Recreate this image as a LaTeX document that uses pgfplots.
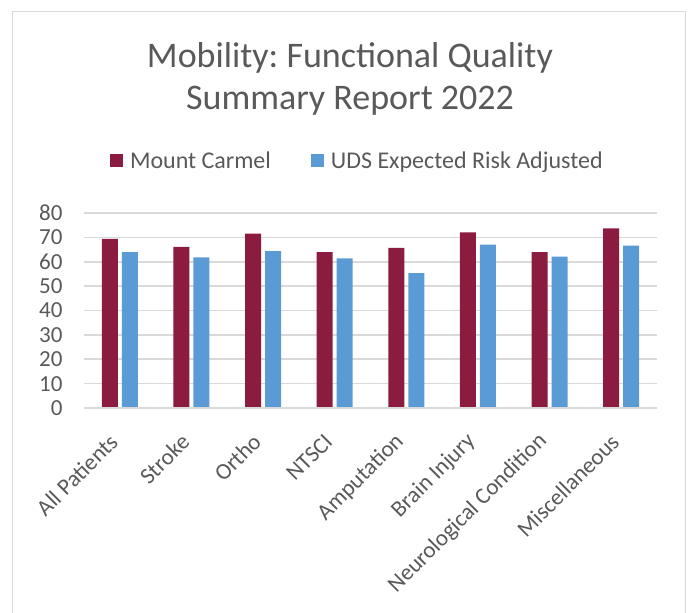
\documentclass[border=0pt]{standalone}
\usepackage{fontspec}
\setmainfont{Carlito}
\usepackage{pgfplots}
\pgfplotsset{compat=1.18}
\definecolor{mcred}{HTML}{8B1C40}
\definecolor{udsblue}{HTML}{5B9BD5}
\definecolor{txtgray}{HTML}{595959}
\definecolor{gridgray}{HTML}{D9D9D9}
\frenchspacing

\begin{document}
\begin{tikzpicture}[x=1pt,y=1pt]
\begin{scope}
\clip (0,0) rectangle (689,613);
\draw[gridgray, line width=1pt] (12,-5) rectangle (685,601);
\end{scope}
\node[txtgray, anchor=base, font=\fontsize{36}{43}\selectfont] at (350,545) {Mobility: Functional Quality};
\node[txtgray, anchor=base, font=\fontsize{36}{43}\selectfont] at (350,503) {Summary Report 2022};

\begin{axis}[
    at={(84pt,205pt)}, anchor=south west,
    width=573pt, height=195pt, scale only axis,
    xmin=-0.5, xmax=7.5, ymin=0, ymax=80,
    ybar=4pt, bar width=16pt,
    axis line style={draw=none},
    ymajorgrids, grid style={gridgray, line width=1.5pt},
    ytick={0,10,...,80},
    xtick={0,...,7},
    xticklabels={All Patients,Stroke,Ortho,NTSCI,Amputation,Brain Injury,Neurological Condition,Miscellaneous},
    major tick length=0pt,
    tick label style={txtgray, font=\fontsize{23}{27}\selectfont},
    /pgf/number format/assume math mode=true,
    yticklabel style={xshift=-18pt},
    xticklabel style={xshift=-6pt, yshift=-30pt, rotate=45, anchor=east, inner sep=0pt},
    legend style={at={(0.0454,1.267)}, anchor=west, draw=none, fill=none,
        inner sep=0pt, outer sep=0pt,
        nodes={inner sep=0pt, outer sep=0pt},
        legend columns=2, font=\fontsize{24}{29}\selectfont, text=txtgray,
        /tikz/every odd column/.append style={column sep=7pt},
        /tikz/every even column/.append style={column sep=40pt}},
    legend image code/.code={\fill[#1] (0pt,-6.5pt) rectangle (13pt,6.5pt);},
    clip=false,
]
\addplot[fill=mcred, draw=none] coordinates {
    (0,69.4) (1,66.1) (2,71.5) (3,64.0) (4,65.7) (5,72.1) (6,64.0) (7,73.7)
};
\addlegendentry{Mount Carmel}
\addplot[fill=udsblue, draw=none] coordinates {
    (0,64.0) (1,61.8) (2,64.4) (3,61.4) (4,55.3) (5,67.0) (6,62.1) (7,66.6)
};
\addlegendentry{UDS Expected Risk Adjusted}
\draw[gridgray, line width=1.5pt] (rel axis cs:0,0) -- (rel axis cs:1,0);
\end{axis}
\pgfresetboundingbox
\path[use as bounding box] (0,0) rectangle (689,613);
\end{tikzpicture}
\end{document}
